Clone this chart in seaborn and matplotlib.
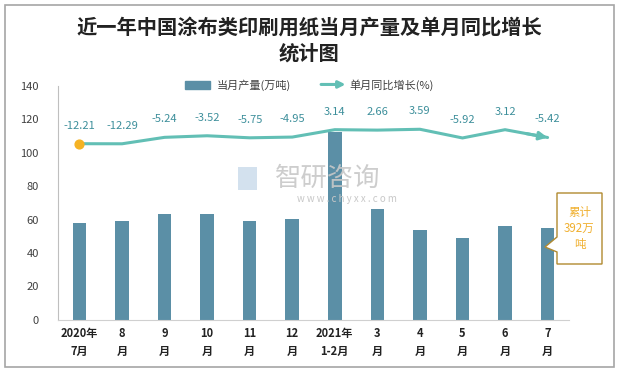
import numpy as np
import pandas as pd
import seaborn as sns
import matplotlib.pyplot as plt
from matplotlib.patches import Patch, Rectangle, Polygon, FancyArrowPatch
from matplotlib.legend_handler import HandlerBase

months = ["2020年\n7月", "8\n月", "9\n月", "10\n月", "11\n月", "12\n月",
          "2021年\n1-2月", "3\n月", "4\n月", "5\n月", "6\n月", "7\n月"]
output = [58.2, 59.4, 63.5, 63.5, 59.4, 60.6, 112.5, 66.3, 53.7, 49.1, 56.0, 54.9]
growth = [-12.21, -12.29, -5.24, -3.52, -5.75, -4.95, 3.14, 2.66, 3.59, -5.92, 3.12, -5.42]
total_note = "累计\n392万\n吨"

bar_color = "#5b8fa6"
line_color = "#62bfb5"
label_color = "#3d8f9b"
text_color = "#404040"

sns.set_style("white")
plt.rcParams['font.family'] = ['Noto Sans CJK SC', 'DejaVu Sans']

df = pd.DataFrame({"month": months, "output": output, "growth": growth})
df["x"] = np.arange(len(df))

W, H = 619, 372
fig = plt.figure(figsize=(W / 100, H / 100), dpi=100)
ax = fig.add_axes([0.094, 0.14, 0.825, 0.629])

sns.barplot(data=df, x="month", y="output", color=bar_color, width=0.32,
            saturation=1, linewidth=0, ax=ax)
ax.set_xlim(-0.5, 11.5)
ax.set_ylim(0, 140)
ax.set_yticks(range(0, 141, 20))
ax.set_xlabel("")
ax.set_ylabel("")
ax.tick_params(axis="y", labelsize=8, colors=text_color, length=0, pad=14)
ax.tick_params(axis="x", length=0, pad=5)
for t in ax.get_xticklabels():
    t.set_fontweight("bold")
    t.set_fontsize(8)
    t.set_color("#222222")
    t.set_linespacing(1.5)
ax.set_xticks(np.arange(-0.5, 12, 1), minor=True)
ax.tick_params(axis="x", which="minor", length=4, color="#bfbfbf", width=0.8)
for s in ["top", "right"]:
    ax.spines[s].set_visible(False)
ax.spines["left"].set_color("#bfbfbf")
ax.spines["bottom"].set_color("#d0d0d0")

# hidden secondary axis for growth rate
ax2 = ax.twinx()
sns.lineplot(data=df, x="x", y="growth", color=line_color, lw=2.2, ax=ax2)
ax2.annotate("", xy=(df["x"].iloc[-1], growth[-1]),
             xytext=(df["x"].iloc[-2] + 0.5, (growth[-1] + growth[-2]) / 2),
             arrowprops=dict(arrowstyle="-|>", color=line_color, lw=2.2, mutation_scale=12,
                             shrinkA=0, shrinkB=0))
ax2.scatter([df["x"].iloc[0]], [growth[0]], s=40, color="#f5b324", zorder=5)
ax2.set_ylim(-205, 51)
ax2.set_xlim(-0.5, 11.5)
ax2.axis("off")
for xi, g in zip(df["x"], growth):
    ax2.annotate(f"{g:.2f}", (xi, g), xytext=(0, 13), textcoords="offset points",
                 ha="center", va="center", fontsize=8, color=label_color)

# watermark
fig.text(0.53, 0.52, "智研咨询", fontsize=19, color="#c8c8c8", ha="center", va="center", alpha=0.9)
fig.text(0.56, 0.465, "w w w . c h y x x . c o m", fontsize=7, color="#c8c8c8", ha="center", va="center")
fig.patches.append(Rectangle((0.385, 0.49), 0.03, 0.06, transform=fig.transFigure,
                             fc="#c9daea", ec="none", alpha=0.8))

# callout box with pointer (pixel layout, y from top)
pts = [(557, 193), (602, 193), (602, 264), (557, 264), (557, 252), (545, 247), (557, 237)]
fig.patches.append(Polygon([(px / W, 1 - py / H) for px, py in pts], closed=True,
                           transform=fig.transFigure, fc="white", ec="#b08a30", lw=1, zorder=5))
fig.text(579.5 / W, 1 - 228.5 / H, total_note, ha="center", va="center", fontsize=8.3,
         color="#f0b030", linespacing=1.3, zorder=6)


class ArrowHandler(HandlerBase):
    def create_artists(self, legend, orig_handle, xdescent, ydescent, width, height, fontsize, trans):
        arr = FancyArrowPatch((-xdescent, height / 2), (width + 4 - xdescent, height / 2),
                              arrowstyle="-|>", mutation_scale=10, color=line_color, lw=2.2,
                              transform=trans)
        return [arr]


bar_handle = Patch(color=bar_color)
line_handle = object()
fig.legend([bar_handle, line_handle], ["当月产量(万吨)", "单月同比增长(%)"],
           handler_map={object: ArrowHandler()},
           loc="center", bbox_to_anchor=(0.5, 1 - 85 / H), ncol=2, frameon=False,
           fontsize=8, labelcolor=text_color, handlelength=2.2, handleheight=0.8,
           columnspacing=2.5, handletextpad=0.6)

fig.text(0.5, 1 - 27 / H, "近一年中国涂布类印刷用纸当月产量及单月同比增长", ha="center", va="center",
         fontsize=14.6, fontweight="bold", color="#222222")
fig.text(0.5, 1 - 53 / H, "统计图", ha="center", va="center",
         fontsize=14.6, fontweight="bold", color="#222222")

fig.patches.append(Rectangle((5 / W, 5 / H), 609 / W, 362 / H, transform=fig.transFigure,
                             fill=False, ec="#a6a6a6", lw=1.2))

fig.savefig("out.png", dpi=100)
